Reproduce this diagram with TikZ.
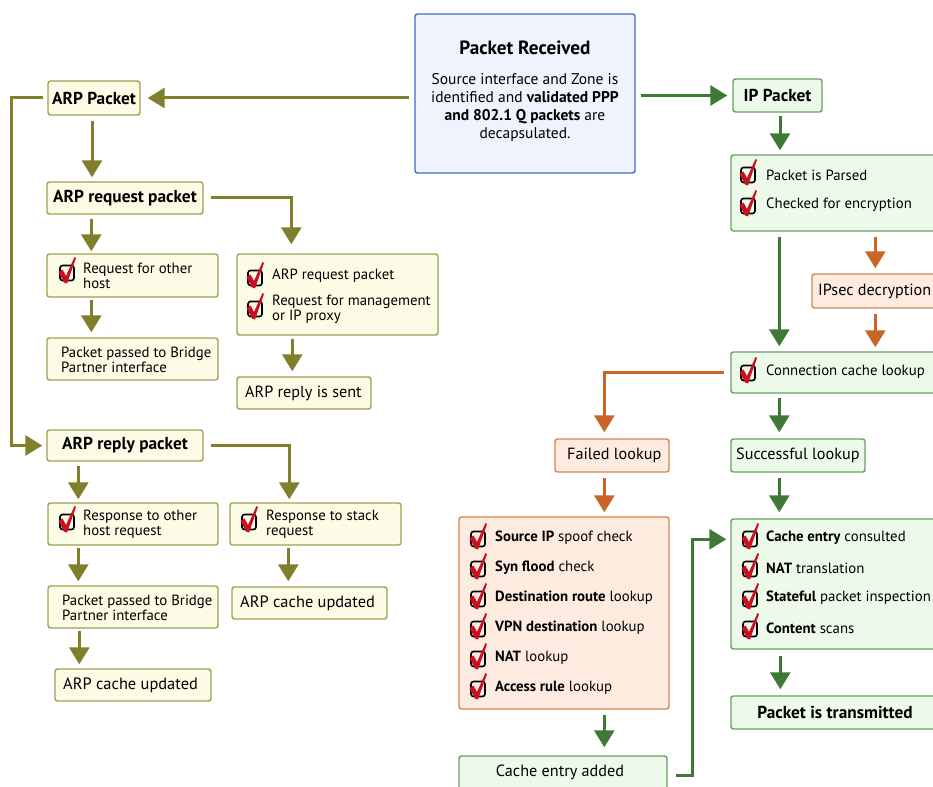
\documentclass[tikz,border=0pt]{standalone}
\usepackage{fontspec}
\setmainfont{PT Sans}
\usetikzlibrary{arrows.meta}
\definecolor{olarr}{RGB}{128,128,44}
\definecolor{ylfill}{RGB}{252,252,230}
\definecolor{yldraw}{RGB}{160,160,84}
\definecolor{blfill}{RGB}{238,243,253}
\definecolor{bldraw}{RGB}{72,104,200}
\definecolor{grarr}{RGB}{62,122,54}
\definecolor{grfill}{RGB}{237,250,233}
\definecolor{grdraw}{RGB}{104,160,98}
\definecolor{orarr}{RGB}{200,102,40}
\definecolor{orfill}{RGB}{253,235,224}
\definecolor{ordraw}{RGB}{214,132,84}
\definecolor{chkred}{RGB}{200,16,32}
\newcommand\fitem{\fontsize{14.8}{15}\selectfont}
\newcommand\fbody{\fontsize{15.5}{18}\selectfont}
\newcommand\fmid{\fontsize{16.2}{17}\selectfont}
\newcommand\fbig{\fontsize{16.4}{17}\selectfont}
\newcommand\fbold{\fontsize{17.3}{18}\selectfont\bfseries}
\newcommand\ftitle{\fontsize{19.2}{20}\selectfont\bfseries}
\begin{document}
\begin{tikzpicture}[x=1pt,y=-1pt,
  box/.style={rounded corners=2.5pt, line width=1.4pt, inner sep=0pt},
  ybox/.style={box, draw=yldraw, fill=ylfill},
  bbox/.style={box, draw=bldraw, fill=blfill},
  gbox/.style={box, draw=grdraw, fill=grfill},
  obox/.style={box, draw=ordraw, fill=orfill},
  sz/.style 2 args={minimum width=#1pt, minimum height=#2pt},
  lbl/.style={anchor=west, inner sep=0pt, align=left, font=\fitem},
  ctr/.style={inner sep=0pt, align=center},
  arrbase/.style={line width=3pt, -{Triangle[width=20pt,length=17pt]}, shorten <=5pt},
  oa/.style={arrbase, draw=olarr},
  ga/.style={arrbase, draw=grarr},
  ra/.style={arrbase, draw=orarr},
  chk/.pic={
    \draw[line width=1.6pt, rounded corners=2.5pt, black] (-7,-7.5) rectangle (7,7.5);
    \fill[chkred] (-8.5,-1) -- (-4.5,-3.5) -- (-1,3) -- (7.5,-16) -- (9,-15) -- (0,10.5) -- (-3,9.5) -- cycle;
  }
]
\useasboundingbox (0,0) rectangle (933,786);
\clip (0,0) rectangle (933,786);
\fill[white] (0,0) rectangle (933,786);

% ---------- top ----------
\node[bbox, sz={220}{159}] (pr) at (525,93.5) {};
\node[ctr, font=\ftitle] (prt) at (525,48) {Packet Received};
\node[ctr, font=\fbody] (prb) at (525,108) {Source interface and Zone is\\identified and \textbf{validated PPP}\\\textbf{and 802.1 Q packets} are\\decapsulated.};

% ---------- ARP side ----------
\node[ybox, sz={92}{34}, font=\fbold] (arp) at (94,98) {ARP Packet};
\node[ybox, sz={156}{32}, font=\fbold] (arpreq) at (125,198) {ARP request packet};

\node[ybox, sz={171}{43}] (reqo) at (132.5,275.5) {};
\pic at (67,273) {chk};
\node[lbl] (reqot) at (83,275.5) {Request for other\\host};

\node[ybox, sz={171}{42}] (pass1) at (132.5,359) {};
\node[lbl] (pass1t) at (61,359.5) {Packet passed to Bridge\\Partner interface};

\node[ybox, sz={201}{81}] (reqm) at (337.5,294.5) {};
\pic at (255,278) {chk};
\node[lbl] (reqm1) at (272,276) {ARP request packet};
\pic at (255,309) {chk};
\node[lbl] (reqm2) at (272,309.5) {Request for management\\or IP proxy};

\node[ybox, sz={134}{32}] (sent) at (304,393) {};
\node[lbl, font=\fmid] (sentt) at (245,393) {ARP reply is sent};

\node[ybox, sz={156}{31}, font=\fbold] (arprep) at (125,445.5) {ARP reply packet};

\node[ybox, sz={170}{42}] (respo) at (133,524) {};
\pic at (67,522) {chk};
\node[lbl] (respot) at (83,524) {Response to other\\host request};

\node[ybox, sz={171}{42}] (resps) at (315.5,524) {};
\pic at (249,522) {chk};
\node[lbl] (respst) at (266,524) {Response to stack\\request};

\node[ybox, sz={170}{42}] (pass2) at (133,607) {};
\node[lbl] (pass2t) at (62,607.5) {Packet passed to Bridge\\Partner interface};

\node[ybox, sz={156}{32}] (cache1) at (133,685) {};
\node[lbl, font=\fbig] (cache1t) at (63,685) {ARP cache updated};

\node[ybox, sz={155}{32}] (cache2) at (309.5,603) {};
\node[lbl, font=\fbig] (cache2t) at (240,603) {ARP cache updated};

% ---------- IP side ----------
\node[gbox, sz={89}{33}, font=\fbold] (ip) at (777.5,95.5) {IP Packet};

\node[gbox, sz={214}{76}] (parsed) at (838,193) {};
\pic at (748,175) {chk};
\node[lbl] (pars1) at (766,175) {Packet is Parsed};
\pic at (748,206) {chk};
\node[lbl] (pars2) at (766,205) {Checked for encryption};

\node[obox, sz={133}{34}] (ipsec) at (878.5,291) {};
\node[lbl, font=\fmid] (ipsect) at (818,291) {IPsec decryption};

\node[gbox, sz={206}{41}] (conn) at (834,372.5) {};
\pic at (748,373) {chk};
\node[lbl] (connt) at (766,372) {Connection cache lookup};

\node[obox, sz={114}{33}] (failed) at (612,455.5) {};
\node[lbl, font=\fmid] (failedt) at (567,455.5) {Failed lookup};

\node[gbox, sz={134}{33}] (succ) at (798,455.5) {};
\node[lbl, font=\fmid] (succt) at (736,455.5) {Successful lookup};

\node[obox, sz={210}{192}] (flist) at (564,613) {};
\foreach \b/\n [count=\i] in {Source IP/spoof check, Syn flood/check, Destination route/lookup, VPN destination/lookup, NAT/lookup, Access rule/lookup}{
  \pic at (478,{509+30*\i}) {chk};
  \node[lbl] (fi\i) at (495,{508+30*\i}) {\textbf{\b} \n};
}

\node[gbox, sz={214}{130}] (glist) at (838,584) {};
\foreach \b/\n [count=\i] in {Cache entry/consulted, NAT/translation, Stateful/packet inspection, Content/scans}{
  \pic at (750,{509+30*\i}) {chk};
  \node[lbl] (gi\i) at (766,{508+30*\i}) {\textbf{\b} \n};
}

\node[gbox, sz={214}{33}] (trans) at (838,712.5) {};
\node[ctr, font=\fbold] (transt) at (835,712.5) {Packet is transmitted};

\node[gbox, sz={208}{44}] (added) at (563,778) {};
\node[ctr, font=\fmid] (addedt) at (560,772) {Cache entry added};

% ---------- connectors: olive ----------
\draw[oa, shorten >=7pt] (pr.west |- arp.east) -- (arp.east);
\draw[oa, shorten <=4pt, shorten >=4pt] (arp.west) -- ++(-36,0) |- (arprep.west);
\draw[oa, shorten >=4pt] ([xshift=-2pt]arp.south) -- ([xshift=-2pt]arp.south |- arpreq.north);
\draw[oa, shorten <=4pt, shorten >=2pt] ([xshift=45pt]arpreq.south west) -- ([xshift=45pt]arpreq.south west |- reqo.north);
\draw[oa, shorten <=7pt, shorten >=9pt] (arpreq.east) -| ([xshift=55pt]reqm.north west);
\draw[oa, shorten <=2pt, shorten >=5pt] ([xshift=45pt]reqo.south west) -- ([xshift=45pt]reqo.south west |- pass1.north);
\draw[oa, shorten <=3pt, shorten >=5pt] ([xshift=56pt]reqm.south west) -- ([xshift=56pt]reqm.south west |- sent.north);
\draw[oa, shorten <=4pt, shorten >=3pt] ([xshift=32pt]arprep.south west) -- ([xshift=32pt]arprep.south west |- respo.north);
\draw[oa, shorten <=7pt, shorten >=3pt] (arprep.east) -| ([xshift=60pt]resps.north west);
\draw[oa, shorten <=2pt, shorten >=4pt] ([xshift=31pt]respo.south west) -- ([xshift=31pt]respo.south west |- pass2.north);
\draw[oa, shorten <=2pt, shorten >=4pt] ([xshift=32pt]pass2.south west) -- ([xshift=32pt]pass2.south west |- cache1.north);
\draw[oa, shorten <=2pt, shorten >=5pt] ([xshift=59pt]resps.south west) -- ([xshift=59pt]resps.south west |- cache2.north);

% ---------- connectors: green / orange ----------
\draw[ga, shorten >=5pt] (pr.east |- ip.west) -- (ip.west);
\draw[ga, shorten <=3pt, shorten >=4pt] ([xshift=2.5pt]ip.south) -- ([xshift=2.5pt]ip.south |- parsed.north);
\draw[ga, shorten >=5pt] ([xshift=49pt]parsed.south west) -- ([xshift=49pt]parsed.south west |- conn.north);
\draw[ra, shorten >=5pt] ([xshift=145pt]parsed.south west) -- ([xshift=145pt]parsed.south west |- ipsec.north);
\draw[ra, shorten >=4pt] ([xshift=64pt]ipsec.south west) -- ([xshift=64pt]ipsec.south west |- conn.north);
\draw[ra, shorten <=6pt, shorten >=6pt] (conn.west) -| ([xshift=50pt]failed.north west);
\draw[ga, shorten <=4pt, shorten >=6pt] ([xshift=49pt]conn.south west) -- ([xshift=49pt]conn.south west |- succ.north);
\draw[ra, shorten >=4pt] ([xshift=50pt]failed.south west) -- ([xshift=50pt]failed.south west |- flist.north);
\draw[ga, shorten >=6pt] ([xshift=49pt]succ.south west) -- ([xshift=49pt]succ.south west |- glist.north);
\draw[ga, shorten <=6pt, shorten >=6pt] ([xshift=50pt]glist.south west) -- ([xshift=50pt]glist.south west |- trans.north);
\draw[ga, shorten >=8pt] ([xshift=146pt]flist.south west) -- ([xshift=146pt]flist.south west |- added.north);
\draw[ga, shorten <=8pt, shorten >=4pt] ([yshift=3pt]added.east) -- ++(25,0) |- ([yshift=-21pt]glist.north west);
\end{tikzpicture}
\end{document}
